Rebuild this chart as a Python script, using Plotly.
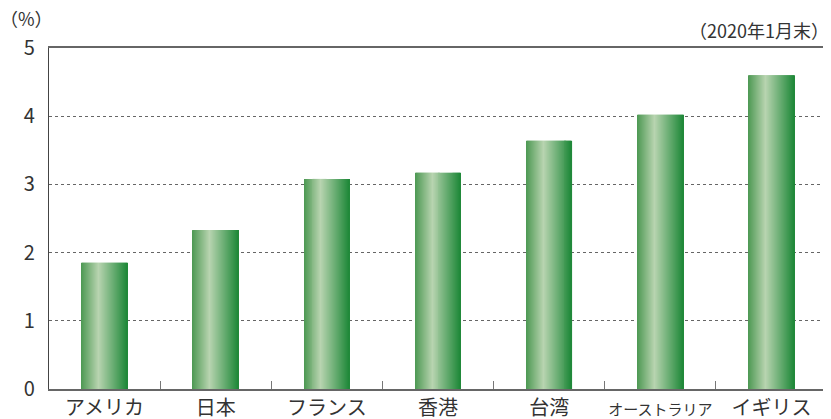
import plotly.graph_objects as go

categories = ["アメリカ", "日本", "フランス", "香港", "台湾", "オーストラリア", "イギリス"]
values = [1.85, 2.33, 3.08, 3.17, 3.64, 4.02, 4.60]
tick_labels = ["アメリカ", "日本", "フランス", "香港", "台湾",
               "<span style='font-size:15px'>オーストラリア</span>", "イギリス"]
y_ticks = [0, 1, 2, 3, 4, 5]

# gradient stops across the bar width (fraction, rgb)
stops = [(0.0, (76, 152, 82)), (0.38, (184, 212, 176)), (1.0, (30, 136, 56))]

def color_at(t):
    for (t0, c0), (t1, c1) in zip(stops[:-1], stops[1:]):
        if t0 <= t <= t1:
            f = (t - t0) / (t1 - t0) if t1 > t0 else 0
            c = [round(a + (b - a) * f) for a, b in zip(c0, c1)]
            return f"rgb({c[0]},{c[1]},{c[2]})"
    c = stops[-1][1]
    return f"rgb({c[0]},{c[1]},{c[2]})"

bar_width = 0.41
n_slices = 46
slice_w = bar_width / n_slices

fig = go.Figure()
for i in range(n_slices):
    t = (i + 0.5) / n_slices
    fig.add_trace(go.Bar(
        x=categories, y=values,
        width=[slice_w * 1.15] * len(categories),
        offset=[-bar_width / 2 + i * slice_w] * len(categories),
        marker=dict(color=color_at(t), line=dict(width=0)),
        showlegend=False, hoverinfo="skip",
    ))

# page body has an 8px margin, so the figure is sized/offset to compensate
fig.update_layout(
    width=823, height=411,
    margin=dict(l=41, r=4, t=40, b=30, autoexpand=False),
    barmode="overlay",
    plot_bgcolor="white", paper_bgcolor="white",
    font=dict(family="Noto Sans CJK JP, Open Sans, sans-serif", color="#333", size=18),
    xaxis=dict(
        tickmode="array", tickvals=categories, ticktext=tick_labels,
        tickangle=0, automargin=False,
        ticks="inside", tickson="boundaries", ticklen=8, tickcolor="#777",
        showline=True, linecolor="#666", linewidth=1.5, mirror=True,
        showgrid=False, tickfont=dict(size=20, color="#333"),
    ),
    yaxis=dict(
        range=[0, 5], tickvals=y_ticks, automargin=False,
        showline=True, linecolor="#444", linewidth=1.2, mirror=True,
        showgrid=True, gridcolor="#666", gridwidth=1, griddash="3px,3px",
        ticks="", ticklabelstandoff=9, zeroline=False,
        tickfont=dict(size=20, color="#333"),
    ),
    annotations=[
        dict(text="（%）", xref="paper", yref="paper", x=-0.0283, y=1.0, yshift=30,
             xanchor="center", yanchor="middle", showarrow=False,
             font=dict(size=18, color="#333")),
        dict(text="（2020年1月末）", xref="paper", yref="paper", x=0.9126, y=1.0, yshift=18,
             xanchor="center", yanchor="middle", showarrow=False,
             font=dict(size=18, color="#333")),
    ],
)

fig.write_html("out.html")
